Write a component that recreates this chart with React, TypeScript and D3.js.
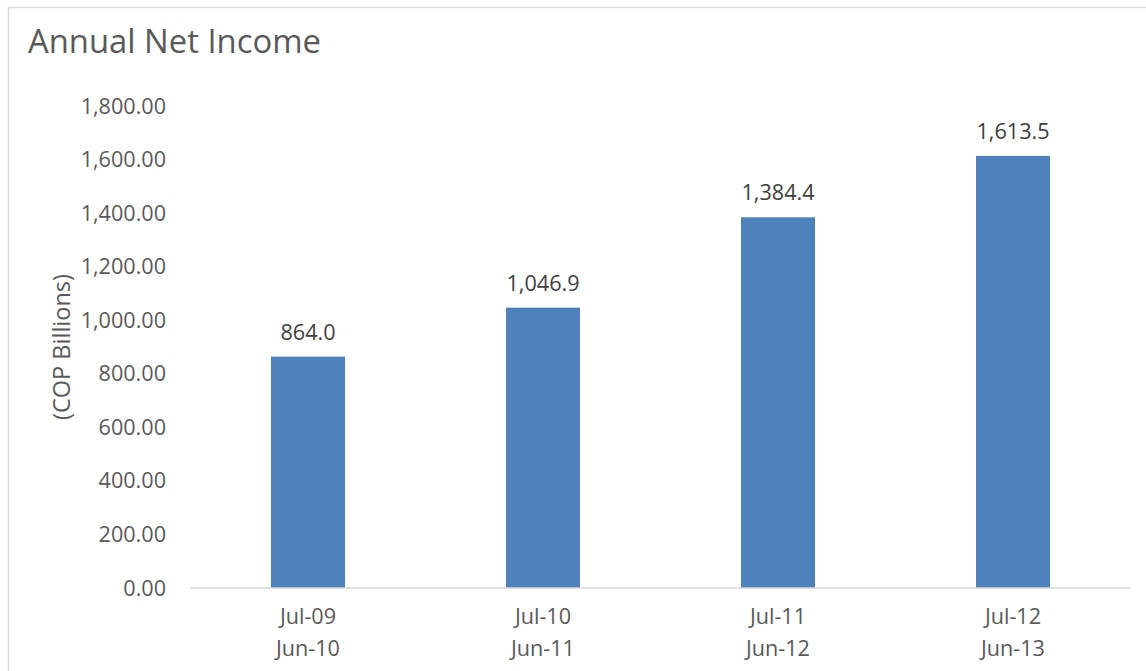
import React from "react";
import * as d3 from "d3";

const categories = [["Jul-09", "Jun-10"], ["Jul-10", "Jun-11"], ["Jul-11", "Jun-12"], ["Jul-12", "Jun-13"]];
const values = [864.0, 1046.9, 1384.4, 1613.5];
const yTicks = [0, 200, 400, 600, 800, 1000, 1200, 1400, 1600, 1800];

const W = 1146;
const H = 671;
const FONT = "'Open Sans', 'Noto Sans', sans-serif";

export default function App() {
  const x = d3
    .scaleBand<number>()
    .domain(values.map((_, i) => i))
    .range([190.5, 1130.5])
    .paddingInner(0.685)
    .paddingOuter(0.3425);
  const y = d3.scaleLinear().domain([0, 1800]).range([588, 106]);
  const fmtTick = d3.format(",.2f");
  const fmtVal = d3.format(",.1f");

  return (
    <svg
      width={W}
      height={H}
      style={{ position: "absolute", left: 0, top: 0, background: "#fff" }}
      fontFamily={FONT}
    >
      <rect x={0} y={0} width={W} height={H} fill="#fff" />
      <path d={`M8.5,${H} V7.5 H${W}`} fill="none" stroke="#d9d9d9" strokeWidth={1.5} />
      <text x={28} y={53} fontSize={32.8} fill="#595959">
        Annual Net Income
      </text>
      <text
        transform={`translate(70,347) rotate(-90)`}
        textAnchor="middle"
        fontSize={23.5}
        fill="#595959"
      >
        (COP Billions)
      </text>
      {yTicks.map((t) => (
        <text
          key={t}
          x={166}
          y={y(t)}
          dy="0.35em"
          textAnchor="end"
          fontSize={21.6}
          fill="#595959"
        >
          {fmtTick(t)}
        </text>
      ))}
      {values.map((v, i) => (
        <g key={i}>
          <rect
            x={x(i)!}
            y={y(v)}
            width={x.bandwidth()}
            height={y(0) - y(v)}
            fill="#4f81bd"
          />
          <text
            x={x(i)! + x.bandwidth() / 2}
            y={y(v) - 17}
            textAnchor="middle"
            fontSize={21.6}
            fill="#404040"
          >
            {fmtVal(v)}
          </text>
        </g>
      ))}
      <line x1={190} x2={1131} y1={588} y2={588} stroke="#d9d9d9" strokeWidth={1.5} />
      {categories.map((c, i) => (
        <text
          key={i}
          x={x(i)! + x.bandwidth() / 2}
          textAnchor="middle"
          fontSize={21.6}
          fill="#595959"
        >
          <tspan x={x(i)! + x.bandwidth() / 2} y={624}>
            {c[0]}
          </tspan>
          <tspan x={x(i)! + x.bandwidth() / 2} y={656}>
            {c[1]}
          </tspan>
        </text>
      ))}
    </svg>
  );
}
